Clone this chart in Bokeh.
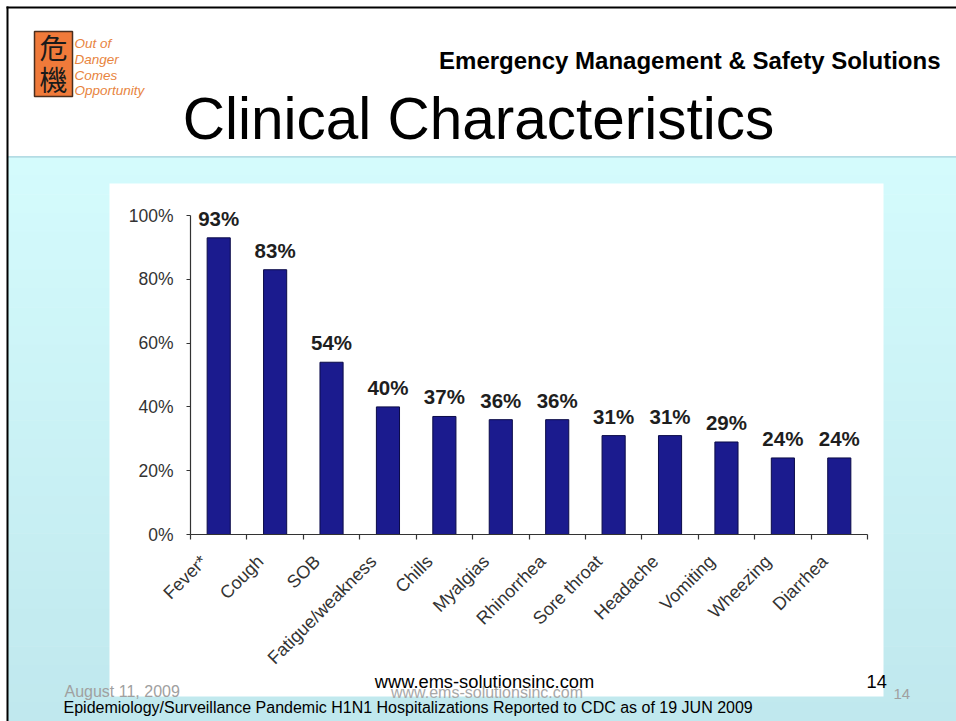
from math import pi
from bokeh.plotting import figure
from bokeh.models import (Range1d, LinearAxis, FixedTicker, ColumnDataSource, LabelSet,
                          PrintfTickFormatter)
from bokeh.core.properties import value
from bokeh.embed import file_html
from bokeh.resources import INLINE

# ---------------- data ----------------
categories = ["Fever*", "Cough", "SOB", "Fatigue/weakness", "Chills", "Myalgias",
              "Rhinorrhea", "Sore throat", "Headache", "Vomiting", "Wheezing", "Diarrhea"]
percent_values = [93, 83, 54, 40, 37, 36, 36, 31, 31, 29, 24, 24]
value_labels = ["93%", "83%", "54%", "40%", "37%", "36%", "36%", "31%", "31%", "29%", "24%", "24%"]
y_tick_values = [0, 20, 40, 60, 80, 100]

slide_title = "Clinical Characteristics"
company = "Emergency Management & Safety Solutions"
logo_chars = ["危", "機"]
logo_lines = ["Out of", "Danger", "Comes", "Opportunity"]
website = "www.ems-solutionsinc.com"
slide_number = "14"
slide_date = "August 11, 2009"
source_note = "Epidemiology/Surveillance Pandemic H1N1 Hospitalizations Reported to CDC  as of 19 JUN 2009"

W, H = 956, 721
FONT = "Liberation Sans"

# ---- layout geometry of the chart area on the slide (pixels, y downwards) ----
PLOT_L, PLOT_R = 190.0, 867.0     # left / right end of the category axis
Y0_PX, Y100_PX = 534.0, 215.0     # pixel rows of 0 % and 100 %

n = len(categories)
slot_px = (PLOT_R - PLOT_L) / n
cx_start = -0.5 - PLOT_L / slot_px
cx_end = -0.5 + (W - PLOT_L) / slot_px
pct_px = (Y0_PX - Y100_PX) / 100.0
cy_start = -(H - Y0_PX) / pct_px
cy_end = Y0_PX / pct_px

p = figure(width=W, height=H, x_range=Range1d(0, W), y_range=Range1d(H, 0),
           output_backend="svg", toolbar_location=None, title=None,
           x_axis_location=None, y_axis_location=None, min_border=0,
           background_fill_color="white", border_fill_color="white", outline_line_color=None)
p.xgrid.visible = False
p.ygrid.visible = False
p.extra_x_ranges = {"cx": Range1d(cx_start, cx_end)}
p.extra_y_ranges = {"cy": Range1d(cy_start, cy_end)}

# ================= slide decoration (pixel space) =================
top_c = (0xD4, 0xFB, 0xFC)
bot_c = (0xC0, 0xE8, 0xEE)
n_strips = 30
y0, y1 = 156.0, float(H)
L, R, T, B, C = [], [], [], [], []
for i in range(n_strips):
    t = i / (n_strips - 1)
    c = tuple(int(round(top_c[k] + (bot_c[k] - top_c[k]) * t)) for k in range(3))
    L.append(7); R.append(W)
    T.append(y0 + (y1 - y0) * i / n_strips)
    B.append(y0 + (y1 - y0) * (i + 1) / n_strips + 0.7)
    C.append("#%02x%02x%02x" % c)
p.quad(left=L, right=R, top=T, bottom=B, fill_color=C, line_color=None)

def box(l, r, t, b, color, **kw):
    kw.setdefault("line_color", None)
    p.quad(left=[l], right=[r], top=[t], bottom=[b], fill_color=color, **kw)

box(7, W, 155.5, 157.2, "#B4DCE4")      # header rule
box(109, 883, 183, 696, "white")        # white chart panel
box(6, W, 6, 8, "black")                # slide border top
box(6, 8, 6, H, "black")                # slide border left

def txt(x, baseline_y, s, size, color="black", align="left", style="normal", font=FONT):
    # text is placed by its vertical middle; convert from the wanted baseline
    y_mid = baseline_y - 0.347 * size
    p.text(x=[x], y=[y_mid], text=[s], text_align=align, text_baseline="middle",
           text_font=value(font), text_font_size=value("%.1fpx" % size),
           text_font_style=value(style), text_color=color)

# logo
box(34, 72, 31, 96, "#F07A3A", line_color="#4A2E1E", line_width=1.5)
for ch, yc in zip(logo_chars, [46, 78]):
    p.text(x=[53], y=[yc], text=[ch], text_align="center", text_baseline="middle",
           text_font=value("Noto Sans CJK TC"), text_font_size=value("28px"),
           text_color="#1A1A1A")
for i, line in enumerate(logo_lines):
    txt(74, 48 + i * 15.6, line, 13.5, "#E8843E", style="italic")

txt(940, 68, company, 24, align="right", style="bold")
txt(478, 138, slide_title, 58.5, align="center")

# footer
txt(484, 687, website, 18.3, align="center")
txt(866, 687, slide_number, 18.3)
txt(64, 697, slide_date, 16, "#A0A0A0")
txt(486.5, 698, website, 16, "#A8A8A8", align="center")
txt(893, 699, slide_number, 15, "#A0A0A0")
txt(63, 713, source_note, 16)

# ================= the chart (extra ranges cx / cy) =================
positions = list(range(n))
edges = [i - 0.5 for i in range(n + 1)]
label_shift = 0.26
label_ticks = [pos - label_shift for pos in positions]

y_axis = LinearAxis(x_range_name="cx", y_range_name="cy", fixed_location=-0.5,
                    ticker=FixedTicker(ticks=y_tick_values), bounds=(0, 100),
                    formatter=PrintfTickFormatter(format="%d%%"),
                    axis_line_color="#333333", axis_line_width=1.2,
                    major_tick_out=4, major_tick_in=0, major_tick_line_color="#333333",
                    minor_tick_out=0, minor_tick_in=0, minor_tick_line_color=None,
                    major_label_standoff=13,
                    major_label_text_font=FONT, major_label_text_font_size="17.5px",
                    major_label_text_color="#333333")
p.add_layout(y_axis, "left")

x_axis = LinearAxis(x_range_name="cx", y_range_name="cy", fixed_location=0,
                    ticker=FixedTicker(ticks=label_ticks, minor_ticks=edges),
                    bounds=(-0.5, n - 0.5),
                    major_label_overrides={t: c for t, c in zip(label_ticks, categories)},
                    axis_line_color="#333333", axis_line_width=1.2,
                    major_tick_out=0, major_tick_in=0, major_tick_line_color=None,
                    minor_tick_out=5, minor_tick_in=0, minor_tick_line_color="#333333",
                    minor_tick_line_width=1.2,
                    major_label_orientation=pi / 4, major_label_standoff=19,
                    major_label_text_font=FONT, major_label_text_font_size="18px",
                    major_label_text_color="#333333")
p.add_layout(x_axis, "below")

src = ColumnDataSource(dict(x=positions, val=percent_values, lab=value_labels))
p.vbar(x="x", top="val", width=0.41, source=src, x_range_name="cx", y_range_name="cy",
       fill_color="#1B1B8E", line_color="#0B0B48", line_width=1)
p.add_layout(LabelSet(x="x", y="val", text="lab", source=src, y_offset=12,
                      x_range_name="cx", y_range_name="cy",
                      text_align="center", text_baseline="alphabetic",
                      text_font=value(FONT), text_font_size=value("20.5px"),
                      text_font_style=value("bold"), text_color="#1E1E1E"))

open("out.html", "w").write(file_html(p, INLINE))
